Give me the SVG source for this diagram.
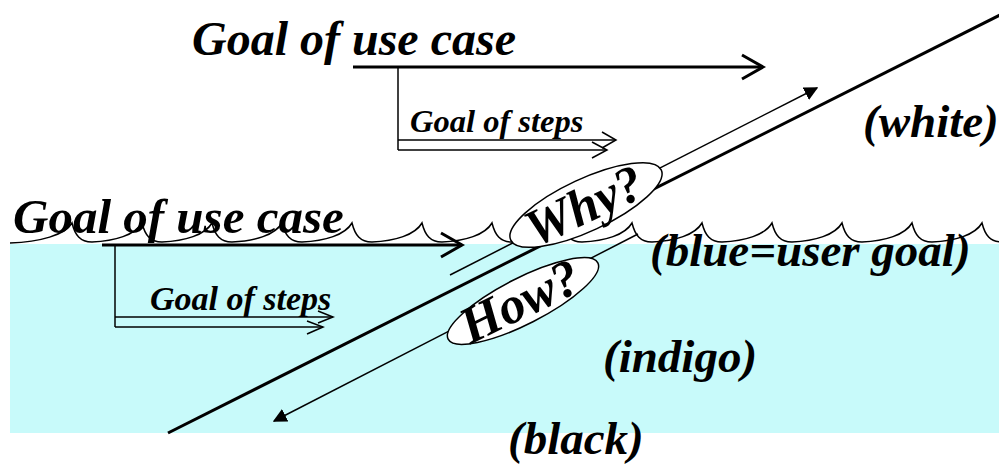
<svg xmlns="http://www.w3.org/2000/svg" width="999" height="464" viewBox="0 0 999 464">
  <defs>
    <style>
      .t { font-family: "Liberation Serif", "Times New Roman", serif; font-weight: bold; font-style: italic; fill: #000; }
      .big { font-size: 48px; }
      .lbl { font-size: 47px; }
      .q { font-size: 52px; }
      .thick { stroke: #000; stroke-width: 3; fill: none; }
      .thin { stroke: #000; stroke-width: 1.5; fill: none; }
      .bubble { fill: #fff; stroke: #000; stroke-width: 1.5; }
    </style>
    <marker id="tri" viewBox="0 0 10 10" refX="9" refY="5" markerWidth="14" markerHeight="14" markerUnits="userSpaceOnUse" orient="auto">
      <path d="M0,0 L10,5 L0,10 Z" fill="#000"/>
    </marker>
  </defs>

  <rect id="water" x="10" y="244" width="989" height="189" fill="#c8fafa"/>

  <g id="waves">
    <path class="thin" d="M 10,243 C 40,242 65,235 72,223 c 3,12 8,19 20,19 c 23,-1 43,-7 50,-19 c 3,12 8,19 20,19 c 23,-1 43,-7 50,-19 c 3,12 8,19 20,19 c 23,-1 43,-7 50,-19 c 3,12 8,19 20,19 c 23,-1 43,-7 50,-19 c 3,12 8,19 20,19 c 23,-1 43,-7 50,-19 c 3,12 8,19 20,19 c 23,-1 43,-7 50,-19 c 3,12 8,19 20,19 c 23,-1 43,-7 50,-19 c 3,12 8,19 20,19 c 23,-1 43,-7 50,-19 c 3,12 8,19 20,19 c 23,-1 43,-7 50,-19 c 3,12 8,19 20,19 c 23,-1 43,-7 50,-19 c 3,12 8,19 20,19 c 23,-1 43,-7 50,-19 c 3,12 8,19 20,19 c 23,-1 43,-7 50,-19 c 3,12 8,19 20,19 c 23,-1 43,-7 50,-19 c 3,12 8,19 20,19"/>
  </g>

  <g id="connectors">
    <line id="level-axis" class="thick" x1="168" y1="433" x2="1000" y2="15"/>
    <line id="why-arrow" class="thin" x1="450" y1="275" x2="817" y2="88" marker-end="url(#tri)"/>
    <line id="how-arrow" class="thin" x1="638" y1="234" x2="274" y2="421" marker-end="url(#tri)"/>

    <g id="upper-goal-lines">
      <line class="thick" x1="353" y1="67" x2="763" y2="67"/>
      <polyline class="thick" points="742,55 763,67 742,79"/>
      <line class="thin" x1="398" y1="67" x2="398" y2="150"/>
      <line class="thin" x1="398" y1="140" x2="616" y2="140"/>
      <polyline class="thin" points="602,132 616,140 602,148"/>
      <line class="thin" x1="398" y1="150" x2="607" y2="150"/>
      <polyline class="thin" points="592,142 607,150 592,158"/>
    </g>
    <g id="lower-goal-lines">
      <line class="thick" x1="102" y1="245" x2="462" y2="245"/>
      <polyline class="thick" points="441,233 462,245 441,257"/>
      <line class="thin" x1="115" y1="245" x2="115" y2="327"/>
      <line class="thin" x1="115" y1="317" x2="333" y2="317"/>
      <polyline class="thin" points="318,311 333,317 318,323"/>
      <line class="thin" x1="115" y1="327" x2="323" y2="327"/>
      <polyline class="thin" points="307,321 323,327 307,334"/>
    </g>
  </g>

  <g id="why">
    <ellipse class="bubble" cx="586" cy="205" rx="83" ry="26" transform="rotate(-25 586 205)"/>
    <text class="t q" text-anchor="middle" transform="translate(586 205) rotate(-25)" x="-2" y="17">Why?</text>
  </g>
  <g id="how">
    <ellipse class="bubble" cx="523" cy="301" rx="84" ry="23" transform="rotate(-27 523 301)"/>
    <text class="t q" text-anchor="middle" transform="translate(523 301) rotate(-26)" x="-3" y="16">How?</text>
  </g>

  <g id="upper-goal">
    <text class="t big" x="192" y="55">Goal of use case</text>
    <text class="t" font-size="32.5" x="410" y="132">Goal of steps</text>
  </g>
  <g id="lower-goal">
    <text class="t" font-size="49" x="13" y="233">Goal of use case</text>
    <text class="t" font-size="34" x="150" y="310">Goal of steps</text>
  </g>

  <g id="labels">
    <text class="t lbl" x="863" y="137">(white)</text>
    <text class="t lbl" x="650" y="266">(blue=user goal)</text>
    <text class="t lbl" x="603" y="372">(indigo)</text>
    <text class="t lbl" x="508" y="454">(black)</text>
  </g>
</svg>
